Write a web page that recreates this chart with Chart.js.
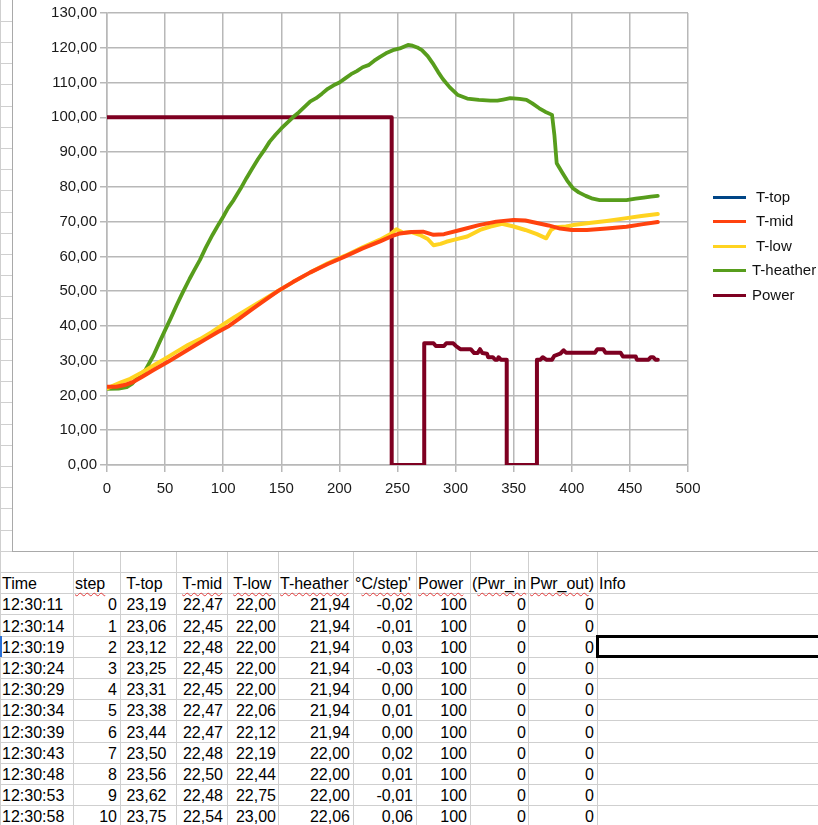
<!DOCTYPE html>
<html><head><meta charset="utf-8">
<script src="https://cdn.jsdelivr.net/npm/chart.js@4.4.1/dist/chart.umd.min.js"></script>
<style>
html,body{margin:0;padding:0;background:#fff;}
body{width:818px;height:825px;position:relative;overflow:hidden;font-family:"Liberation Sans",Arial,sans-serif;}
#chartBox{position:absolute;left:12px;top:0;width:806px;height:552px;border-left:1px solid #a9a9a9;border-bottom:1px solid #a9a9a9;box-sizing:border-box;background:#fff;z-index:2;}
#chart{position:absolute;left:0;top:0;}
.hl{position:absolute;height:1px;background:#cfcfcf;}
.vl{position:absolute;width:1px;background:#cfcfcf;}
.cell{position:absolute;font-size:16px;line-height:18px;color:#000;white-space:pre;}
.sp{text-decoration:underline wavy #e23a3a;text-decoration-thickness:1px;text-underline-offset:3px;}
.lg{position:absolute;z-index:3;}
.lgLine{position:absolute;height:3px;width:33px;}
.lgText{position:absolute;font-size:15px;line-height:18px;color:#111;white-space:pre;}
#sel{position:absolute;left:596px;top:635px;width:230px;height:23px;border:3px solid #000;box-sizing:border-box;}
</style>
</head><body>
<div id="sheet"></div>
<div id="chartBox"><canvas id="chart" width="805" height="551"></canvas></div>
<div id="legend"></div>
<script>
// ---- chart data (x = step) ----
const topSteps = [];
const tTop = [];

const midSteps = [0,8,15,22,30,40,54,65,75,85,95,105,115,125,135,147,160,175,190,205,220,235,245,252,262,272,281,290,304,320,335,350,360,370,380,390,400,413,430,447,460,474];
const tMid = [22.5,22.5,23.0,23.8,25.3,27.3,30.0,32.2,34.2,36.2,38.2,40.0,42.4,44.8,47.2,50.0,52.6,55.4,57.8,60.0,62.3,64.3,65.8,66.6,67.0,67.1,66.2,66.4,67.6,69.0,70.0,70.5,70.3,69.6,68.9,68.0,67.6,67.6,68.0,68.5,69.2,69.9];

const lowSteps = [0,5,12,20,30,40,50,60,70,80,90,100,110,120,130,140,150,160,175,190,205,220,235,244,249,255,262,269,276,281,287,292,300,310,321,330,340,350,360,370,378,382,386,395,401,415,430,447,460,474];
const tLow = [22.0,22.8,23.8,24.8,26.6,28.6,30.6,32.6,34.6,36.2,38.2,40.4,42.6,44.6,46.6,48.6,50.6,52.6,55.4,58.0,60.2,62.6,64.8,66.4,67.8,66.8,67.0,66.2,65.0,63.2,63.6,64.2,64.9,65.7,67.6,68.6,69.4,68.6,67.6,66.4,65.2,67.6,68.4,68.6,69.0,69.6,70.2,71.0,71.6,72.2];

const heatSteps = [0,10,17,22,27,33,40,45,50,55,60,65,71,75,80,85,91,96,100,104,109,115,120,125,130,135,140,145,150,155,160,165,170,175,180,185,190,195,200,205,210,215,220,225,230,235,240,246,252,259,263,267,271,276,281,285,289,295,302,310,320,330,336,341,347,355,361,366,372,377,383,385,387,392,396,401,406,412,418,424,435,447,455,462,468,474];
const tHeather = [21.9,22.0,22.4,23.5,25.3,27.3,31.5,35.2,38.8,42.3,46.0,49.5,53.5,56.0,59.0,62.5,66.3,69.2,71.4,73.8,76.2,79.5,82.5,85.3,88.0,90.4,93.0,95.0,96.8,98.4,100.0,101.4,103.0,104.6,105.5,106.8,108.2,109.2,110.0,111.2,112.4,113.3,114.4,115.0,116.3,117.4,118.4,119.3,119.8,120.8,120.6,120.1,119.3,117.6,115.2,113.0,111.0,108.6,106.4,105.4,105.0,104.8,104.8,105.1,105.5,105.3,105.0,104.0,102.6,101.6,100.7,95.0,86.8,84.0,81.8,79.6,78.4,77.4,76.6,76.2,76.2,76.2,76.6,76.9,77.2,77.4];

const powSteps = [0,245,245,273,273,281,283,290,292,298,300,304,313,316,319,321,323,327,328,332,334,336,337,339,344,344,370,370,373,375,378,383,385,390,393,395,420,422,427,429,442,444,455,456,466,468,470,472,474];
const power = [100,100,0,0,35,35,34.2,34.2,35,35,34.3,33.3,33.3,32.2,32.2,33.3,32.2,32,31,31,30.3,30.3,31,30.3,30.3,0,0,30.3,30.3,31,30.3,30.3,31.4,32,33,32.3,32.3,33.3,33.3,32.3,32.3,31.2,31.2,30.3,30.3,31,31,30.3,30.3];

const seriesNames = [' T-top',' T-mid',' T-low','T-heather','Power'];
const seriesColors = ['#004586','#ff420e','#ffd320','#579d1c','#7e0021'];

const yTicksMin = 0, yTicksMax = 130, yStep = 10;
const xTicksMin = 0, xTicksMax = 500, xStep = 50;

// ---- sheet data ----
const colHeaders = ['Time','step',' T-top',' T-mid',' T-low','T-heather','°C/step\'','Power','(Pwr_in','Pwr_out)','Info'];
const colTime = ['12:30:11','12:30:14','12:30:19','12:30:24','12:30:29','12:30:34','12:30:39','12:30:43','12:30:48','12:30:53','12:30:58'];
const colStep = ['0','1','2','3','4','5','6','7','8','9','10'];
const colTop = [' 23,19',' 23,06',' 23,12',' 23,25',' 23,31',' 23,38',' 23,44',' 23,50',' 23,56',' 23,62',' 23,75'];
const colMid = ['22,47','22,45','22,48','22,45','22,45','22,47','22,47','22,48','22,50','22,48','22,54'];
const colLow = ['22,00','22,00','22,00','22,00','22,00','22,06','22,12','22,19','22,44','22,75','23,00'];
const colHeat = ['21,94','21,94','21,94','21,94','21,94','21,94','21,94','22,00','22,00','22,00','22,06'];
const colRate = ['-0,02','-0,01','0,03','-0,03','0,00','0,01','0,00','0,02','0,01','-0,01','0,06'];
const colPower = ['100','100','100','100','100','100','100','100','100','100','100'];
const colPwrIn = ['0','0','0','0','0','0','0','0','0','0','0'];
const colPwrOut = ['0','0','0','0','0','0','0','0','0','0','0'];

// ---- build sheet ----
const sheet = document.getElementById('sheet');
const colEdges = [0,73,120,176,227,278,353,416,470,528,597,818];
const rowH = 21.2, headTop = 572;
function add(cls, st, html){ const d=document.createElement('div'); d.className=cls; Object.assign(d.style, st); if(html!==undefined) d.innerHTML=html; sheet.appendChild(d); return d; }
for(let y = headTop - rowH; y > 0; y -= rowH){ add('hl',{left:'0px',top:Math.round(y)+'px',width:'13px'}); }
add('vl',{left:'0px',top:'0px',height:'825px'});
for(let k=0;k<=13;k++){ const y=Math.round(headTop + rowH*k); if(y<825) add('hl',{left:'0px',top:y+'px',width:'818px'}); }
for(let c=1;c<colEdges.length-1;c++){ add('vl',{left:colEdges[c]+'px',top:'551px',height:'274px'}); }
const rightAlign = [false,true,false,true,true,true,true,true,true,true,false];
const rightPad = [0,3,0,4,2,3,3,3,2,3,0];
const spell = {1:'<span class="sp">step</span>',3:' <span class="sp">T-mid</span>',4:' <span class="sp">T-low</span>',5:'<span class="sp">T-heather</span>',6:'°<span class="sp">C/step\'</span>',7:'<span class="sp">Power</span>',8:'(<span class="sp">Pwr_in</span>',9:'<span class="sp">Pwr_out</span>)'};
function cellText(c,rowBottom,txt,right){
  const st={top:(rowBottom-18)+'px'};
  if(right){ st.right=(818-colEdges[c+1]+rightPad[c])+'px'; }
  else { st.left=(colEdges[c]+2)+'px'; }
  add('cell',st,txt);
}
colHeaders.forEach((h,c)=>{ cellText(c,Math.round(headTop+rowH),spell[c]!==undefined?spell[c]:h,false); });
const cols = [colTime,colStep,colTop,colMid,colLow,colHeat,colRate,colPower,colPwrIn,colPwrOut];
for(let r=0;r<colTime.length;r++){
  const rb = Math.round(headTop + rowH*(r+2));
  cols.forEach((col,c)=>cellText(c,rb,col[r],rightAlign[c]));
}
add('',{position:'absolute',left:'0px',top:Math.round(headTop+rowH*3)+'px',width:'2px',height:'21px',background:'#2a6fd6'});
const sel=document.createElement('div'); sel.id='sel'; sel.style.top=(Math.round(headTop+rowH*3)-1)+'px'; sheet.appendChild(sel);

// ---- legend ----
const legend = document.getElementById('legend');
const legendY = [197,221.5,246,270.5,295.5];
seriesNames.forEach((n,i)=>{
  const l=document.createElement('div'); l.className='lg'; l.style.left='0px'; l.style.top='0px';
  l.innerHTML='<div class="lgLine" style="left:713px;top:'+(legendY[i]-1.5)+'px;background:'+seriesColors[i]+'"></div>'+
    '<div class="lgText" style="left:752px;top:'+(legendY[i]-9.5)+'px">'+n+'</div>';
  legend.appendChild(l);
});

// ---- chart ----
function pts(xs, ys){ return xs.map((x,i)=>({x:x, y:ys[i]})); }
const stepsList=[topSteps,midSteps,lowSteps,heatSteps,powSteps];
const valsList=[tTop,tMid,tLow,tHeather,power];
const widths=[3.5,4,4,3.8,4];
const tickFont={family:'"Liberation Sans", Arial, sans-serif', size:15};
new Chart(document.getElementById('chart').getContext('2d'),{
  type:'line',
  data:{datasets:seriesNames.map((n,i)=>({label:n,data:pts(stepsList[i],valsList[i]),borderColor:seriesColors[i],backgroundColor:seriesColors[i],borderWidth:widths[i],fill:false}))},
  options:{
    responsive:false, animation:false, devicePixelRatio:1,
    elements:{point:{radius:0,hoverRadius:0},line:{tension:0,borderJoinStyle:'round',borderCapStyle:'round'}},
    layout:{padding:{left:0,right:130,top:13,bottom:46}},
    plugins:{legend:{display:false},tooltip:{enabled:false}},
    events:[],
    scales:{
      x:{type:'linear',min:xTicksMin,max:xTicksMax,
         ticks:{stepSize:xStep,color:'#1a1a1a',font:tickFont,padding:8,maxRotation:0},
         grid:{color:'#b8b8b8',lineWidth:1.5,tickLength:7,tickColor:'#b8b8b8'},
         border:{color:'#b8b8b8',width:1.5},
         afterFit(s){s.height=40;}},
      y:{type:'linear',min:yTicksMin,max:yTicksMax,
         ticks:{stepSize:yStep,color:'#1a1a1a',font:tickFont,padding:3,callback:v=>v.toFixed(2).replace('.',',')},
         grid:{color:'#b8b8b8',lineWidth:1.5,tickLength:7,tickColor:'#b8b8b8'},
         border:{color:'#b8b8b8',width:1.5},
         afterFit(s){s.width=94;}}
    }
  }
});
</script>
</body></html>
